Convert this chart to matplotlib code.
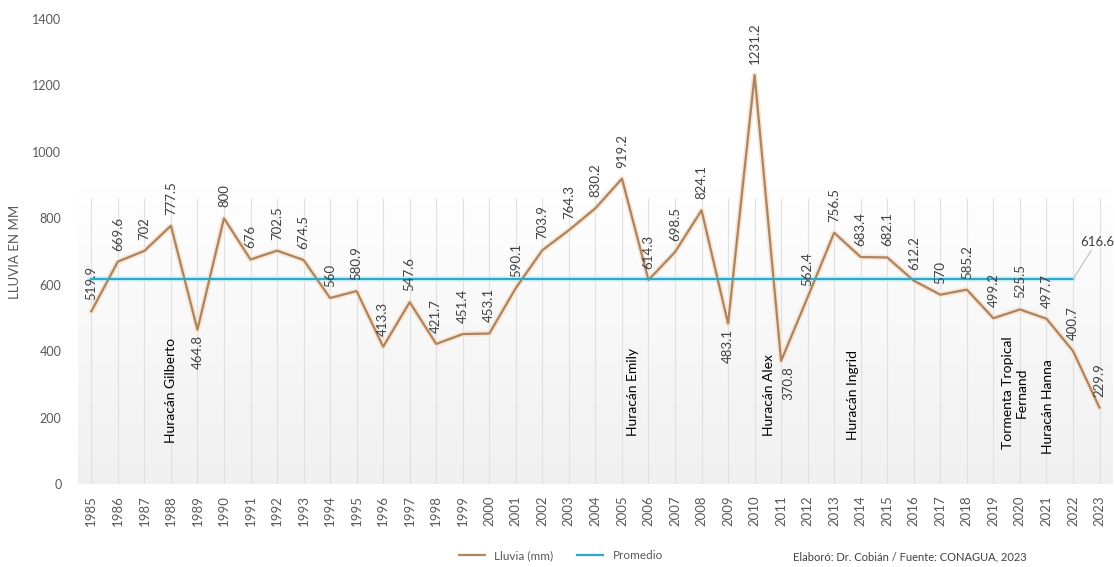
import numpy as np
import matplotlib.pyplot as plt
from matplotlib.colors import LinearSegmentedColormap

plt.rcParams['font.family'] = ['Lato', 'DejaVu Sans']

years = list(range(1985, 2024))
lluvia = [519.9, 669.6, 702, 777.5, 464.8, 800, 676, 702.5, 674.5, 560,
          580.9, 413.3, 547.6, 421.7, 451.4, 453.1, 590.1, 703.9, 764.3, 830.2,
          919.2, 614.3, 698.5, 824.1, 483.1, 1231.2, 370.8, 562.4, 756.5, 683.4,
          682.1, 612.2, 570, 585.2, 499.2, 525.5, 497.7, 400.7, 229.9]
promedio = 616.6
# years whose value label sits under the point
below = [1989, 2009, 2011]
eventos = ['Huracán Gilberto', 'Huracán Emily', 'Huracán Alex', 'Huracán Ingrid',
           'Tormenta Tropical\nFernand', 'Huracán Hanna']
evento_x = [3.0, 20.4, 25.55, 28.7, 34.8, 36.05]
evento_y = [283, 277, 268, 268, 274, 232]

col_ll = '#AD845E'
col_pr = '#2EA9C8'
gris = '#595959'

fig = plt.figure(figsize=(11.15, 5.67), dpi=100)
ax = fig.add_axes([0.070, 0.1464, 0.928, 0.820])

x = np.arange(len(years))

# soft gray backdrop fading to white + column gridlines
grad = np.linspace(0, 1, 100).reshape(-1, 1)
cm = LinearSegmentedColormap.from_list('g', ['#FFFFFF', '#F0F0F0'])
ax.imshow(grad, extent=(-0.5, len(years) - 0.5, 0, 900), aspect='auto',
          cmap=cm, zorder=0)
ax.vlines(x, 0, 860, color='#E0E0E0', lw=0.8, zorder=1)

ax.plot(x, lluvia, color='#F6E6D6', lw=4, zorder=2, solid_capstyle='round')
ax.plot(x, lluvia, color=col_ll, lw=1.6, zorder=3, label='Lluvia (mm)')
xp = x[:-1]
ax.plot(xp, [promedio] * len(xp), color='#D6F1F7', lw=4, zorder=2)
ax.plot(xp, [promedio] * len(xp), color=col_pr, lw=1.6, zorder=3, label='Promedio')

for xi, yr, v in zip(x, years, lluvia):
    lab = f'{v:g}'
    if yr in below:
        dx = 5 if yr == 2011 else 0
        ax.annotate(lab, (xi, v), xytext=(dx, -4), textcoords='offset points',
                    rotation=90, ha='center', va='top', fontsize=9.5, color='#404040', zorder=5)
    else:
        ax.annotate(lab, (xi, v), xytext=(0, 8), textcoords='offset points',
                    rotation=90, ha='center', va='bottom', fontsize=9.5, color='#404040', zorder=5)

ax.annotate(f'{promedio:g}', (xp[-1], promedio), xytext=(37.9, 712),
            ha='center', va='bottom', fontsize=9.5, color='#404040',
            arrowprops=dict(arrowstyle='-', color='#BFBFBF', lw=0.8,
                            shrinkA=0, shrinkB=0))

for t, ex, ey in zip(eventos, evento_x, evento_y):
    ax.text(ex, ey, t, rotation=90, ha='center', va='center', fontsize=10,
            color='black', zorder=5)

ax.set_xlim(-0.5, len(years) - 0.5)
ax.set_ylim(0, 1400)
ax.set_yticks(range(0, 1401, 200))
ax.set_xticks(x)
ax.set_xticklabels(years, rotation=90)
ax.tick_params(axis='both', length=0, colors=gris)
ax.tick_params(axis='x', pad=8, labelsize=9.5)
ax.tick_params(axis='y', pad=12, labelsize=9)
for s in ax.spines.values():
    s.set_visible(False)
ax.set_ylabel('LLUVIA EN MM', fontsize=9.5, color=gris, labelpad=8)

fig.legend(loc='lower center', bbox_to_anchor=(0.503, -0.008), ncol=2, frameon=False,
           fontsize=8.5, labelcolor=gris, handlelength=2.2, columnspacing=2.0)
fig.text(0.816, 0.008, 'Elaboró: Dr. Cobián / Fuente: CONAGUA, 2023',
         ha='center', va='bottom', fontsize=8, color='#404040')

fig.savefig('out.png', dpi=100)
